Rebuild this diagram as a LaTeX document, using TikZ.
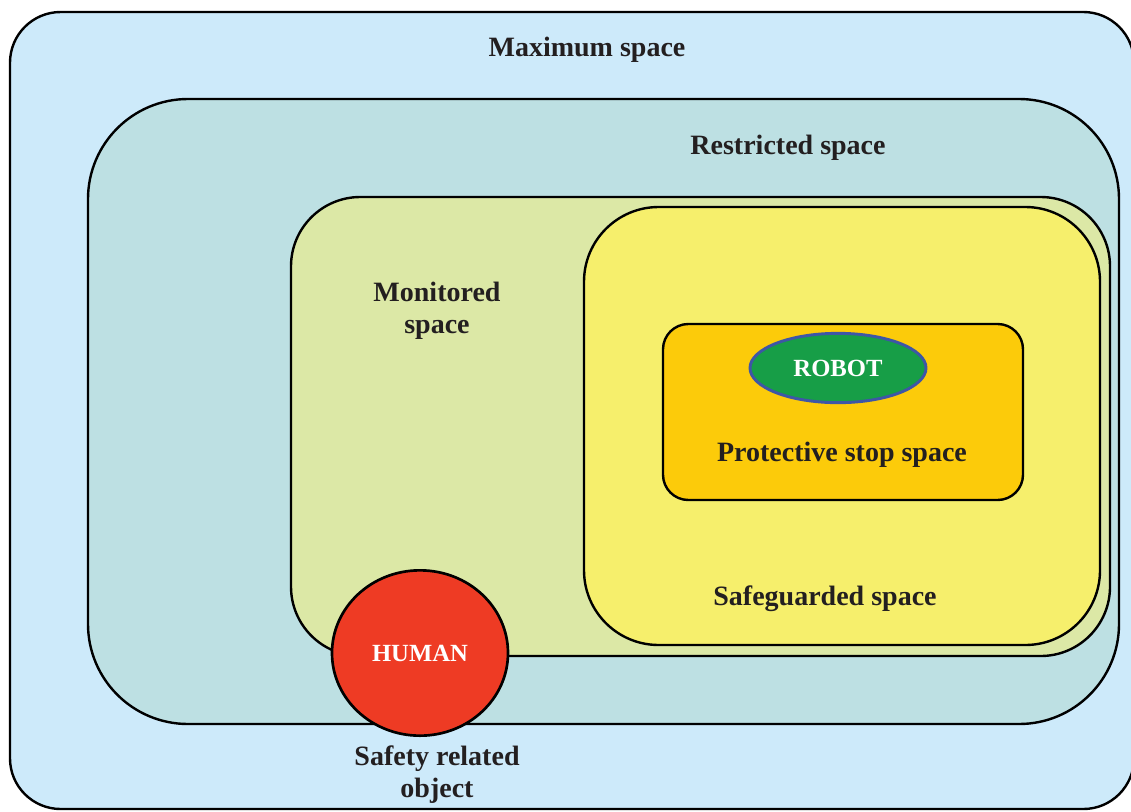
\documentclass[tikz,border=0pt]{standalone}
\usepackage{fontspec}
\setmainfont{Liberation Serif}
\usetikzlibrary{shapes.geometric}
\definecolor{maxblue}{RGB}{205,234,250}
\definecolor{restrteal}{RGB}{189,224,227}
\definecolor{monigreen}{RGB}{220,232,166}
\definecolor{safeyellow}{RGB}{246,239,108}
\definecolor{stopamber}{RGB}{252,203,10}
\definecolor{robotgreen}{RGB}{23,158,71}
\definecolor{robotblue}{RGB}{62,86,166}
\definecolor{humanred}{RGB}{238,59,36}
\definecolor{ink}{RGB}{35,31,32}
\begin{document}
\begin{tikzpicture}[x=0.75pt, y=-0.75pt]
    \tikzstyle{zone} = [draw=black, line width=1.8pt]
    \tikzstyle{lbl} = [font=\fontsize{21}{24}\selectfont\bfseries, text=ink, align=center]
    \tikzstyle{agent} = [ellipse, font=\fontsize{18.5}{22}\selectfont\bfseries, text=white, inner sep=0pt]
    \useasboundingbox (0,0) rectangle (1131,811);
    \clip (0,0) rectangle (1131,811);
    \fill[white] (0,0) rectangle (1131,811);
    % nested spaces
    \draw[zone, fill=maxblue, rounded corners=38pt] (10,12) rectangle (1134,809);
    \draw[zone, fill=restrteal, rounded corners=75pt] (88,99) rectangle (1119,724);
    \draw[zone, fill=monigreen, rounded corners=52pt] (291,197) rectangle (1110,656);
    \draw[zone, fill=safeyellow, rounded corners=56pt] (584,207) rectangle (1100,645);
    \draw[zone, fill=stopamber, rounded corners=19pt] (663,324) rectangle (1023,500);
    % labels
    \node[lbl] (maxlbl) at (587,50) {Maximum space};
    \node[lbl] (restrlbl) at (788,148) {Restricted space};
    \node[lbl] (monilbl) at (437,311) {Monitored\\space};
    \node[lbl] (safelbl) at (825,599) {Safeguarded space};
    \node[lbl] (stoplbl) at (842,455) {Protective stop space};
    % robot and human
    \node[agent, fill=robotgreen, draw=robotblue, line width=2.2pt,
          minimum width=132pt, minimum height=52pt] (robot) at (838,368) {ROBOT};
    \node[agent, fill=humanred, draw=black, line width=2pt,
          minimum width=132pt, minimum height=124pt] (human) at (420,653) {HUMAN};
    \node[lbl] (srolbl) at (437,775) {Safety related\\object};
\end{tikzpicture}
\end{document}
